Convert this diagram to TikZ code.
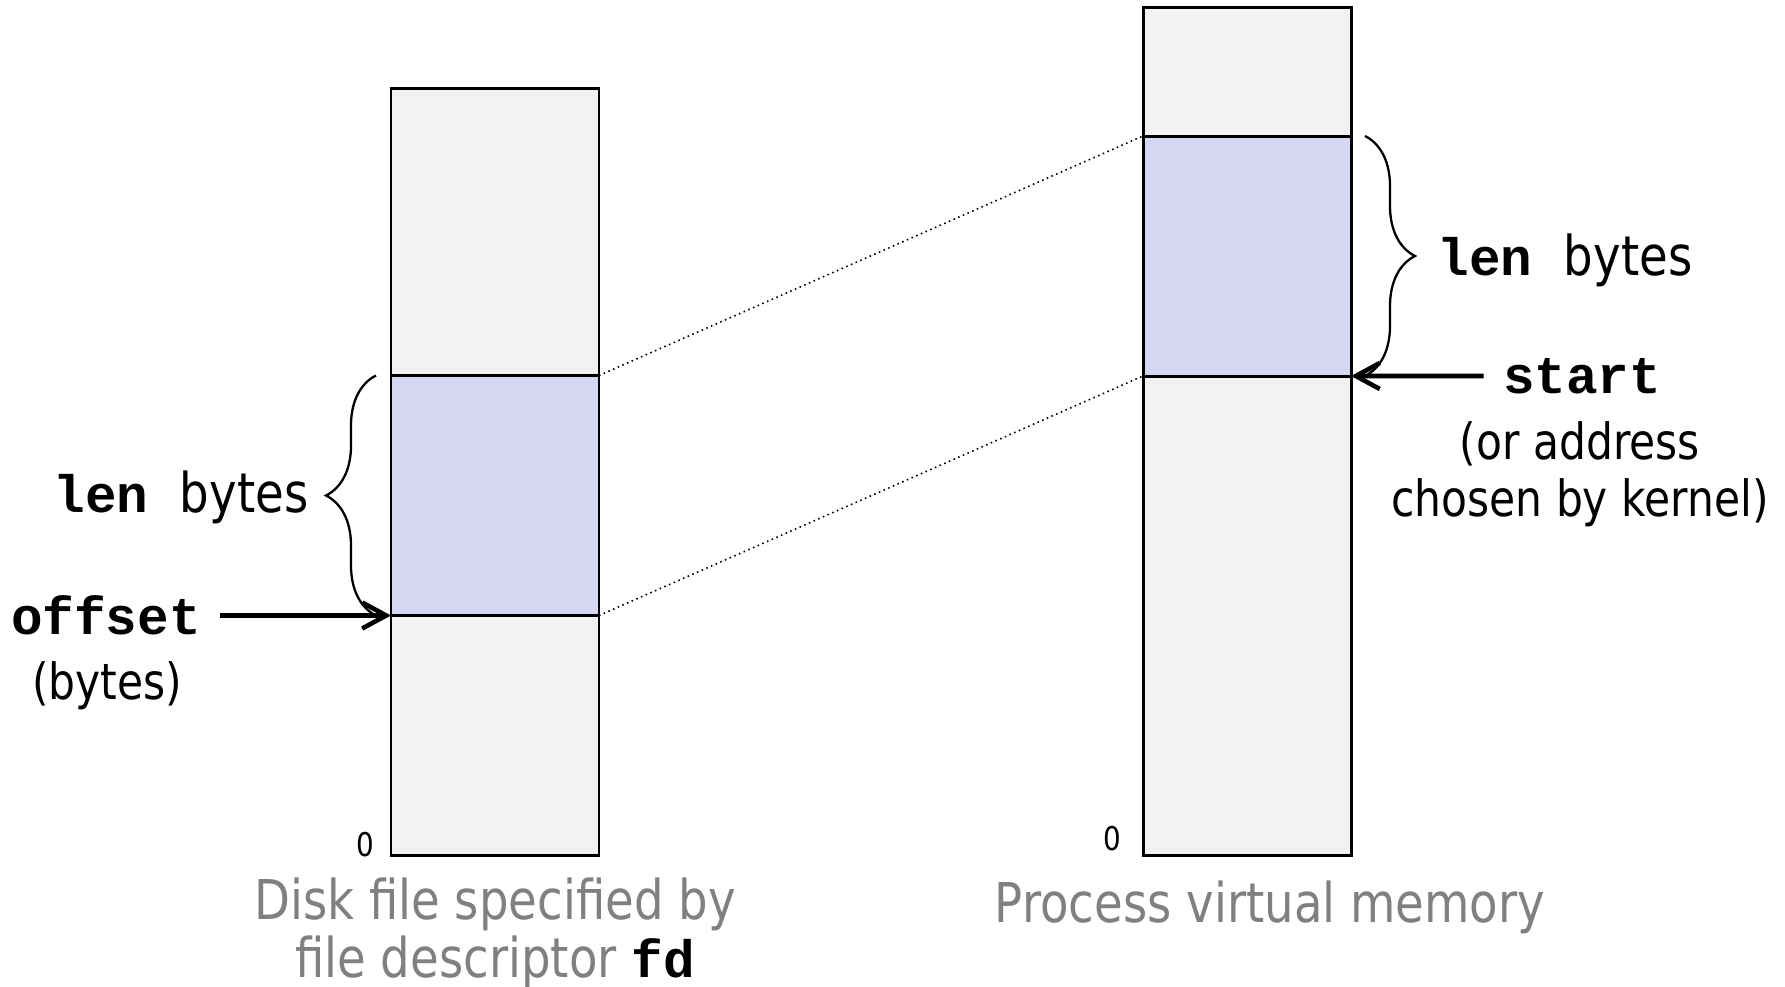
\documentclass[tikz,border=0pt]{standalone}
\usepackage{fontspec}
\setmainfont{DejaVu Sans}[FakeStretch=0.85]
\newfontfamily\codefont{Liberation Mono}[Scale=0.96]
\usetikzlibrary{positioning}
\usetikzlibrary{arrows.meta}
\usetikzlibrary{decorations.pathreplacing}
\definecolor{cellgray}{RGB}{242,242,242}
\definecolor{maplilac}{RGB}{214,214,243}
\definecolor{captiongray}{RGB}{128,128,128}
\newcommand{\codeword}[1]{{\codefont\bfseries #1}}

\begin{document}
\begin{tikzpicture}[x=0.1mm,y=-0.1mm,
  cell/.style={draw,line width=0.85pt,minimum width=20.8mm,inner sep=0pt,outer sep=0pt},
  ptr/.style={line width=1.3pt,shorten <=0.7mm,-{Straight Barb[length=2.4mm,width=2.6mm]}},
  curly/.style={decorate,decoration={brace,amplitude=5mm},line width=0.65pt},
  mapline/.style={densely dotted,line width=0.45pt},
  big/.style={font=\fontsize{15.6}{16.5}\selectfont},
  small/.style={font=\fontsize{14.2}{16.2}\selectfont,align=center},
  zero/.style={font=\fontsize{9.3}{9.3}\selectfont},
  caption/.style={big,align=center,text=captiongray}]
  \useasboundingbox (0,0) rectangle (1785,986);
  % disk file
  \node[cell,fill=maplilac,minimum height=24mm] (fileregion) at (495,495.5) {};
  \node[cell,fill=cellgray,minimum height=28.75mm,above=0pt of fileregion] (filetop) {};
  \node[cell,fill=cellgray,minimum height=23.95mm,below=0pt of fileregion] (filebottom) {};
  % process memory
  \node[cell,fill=maplilac,minimum height=24mm] (memregion) at (1247,256) {};
  \node[cell,fill=cellgray,minimum height=12.85mm,above=0pt of memregion] (memtop) {};
  \node[cell,fill=cellgray,minimum height=47.9mm,below=0pt of memregion] (membottom) {};
  \node[zero] (filezero) at (365,845) {0};
  \node[zero] (memzero) at (1112,839) {0};
  \draw[mapline] (fileregion.north east) -- (memregion.north west);
  \draw[mapline] (fileregion.south east) -- (memregion.south west);
  \draw[curly] ([xshift=-1.5mm]fileregion.south west) -- ([xshift=-1.5mm]fileregion.north west);
  \draw[curly] ([xshift=1.4mm]memregion.north east) -- ([xshift=1.4mm]memregion.south east);
  \node[big] (filelen) at (181,497) {\codeword{len }bytes};
  \node[big] (offset) at (106,615.5) {\codeword{offset}};
  \node[small] (offsetnote) at (107,686) {(bytes)};
  \node[big] (memlen) at (1565,260) {\codeword{len }bytes};
  \node[big] (start) at (1582,376) {\codeword{start}};
  \node[small] (startnote) at (1580,474) {(or address\\chosen by kernel)};
  \draw[ptr] (offset) -- (fileregion.south west);
  \draw[ptr] (start) -- (memregion.south east);
  \node[caption] (filecaption) at (495,933) {Disk file specified by\\file descriptor \textcolor{black}{\codeword{fd}}};
  \node[caption] (memcaption) at (1270,907) {Process virtual memory};
\end{tikzpicture}
\end{document}
